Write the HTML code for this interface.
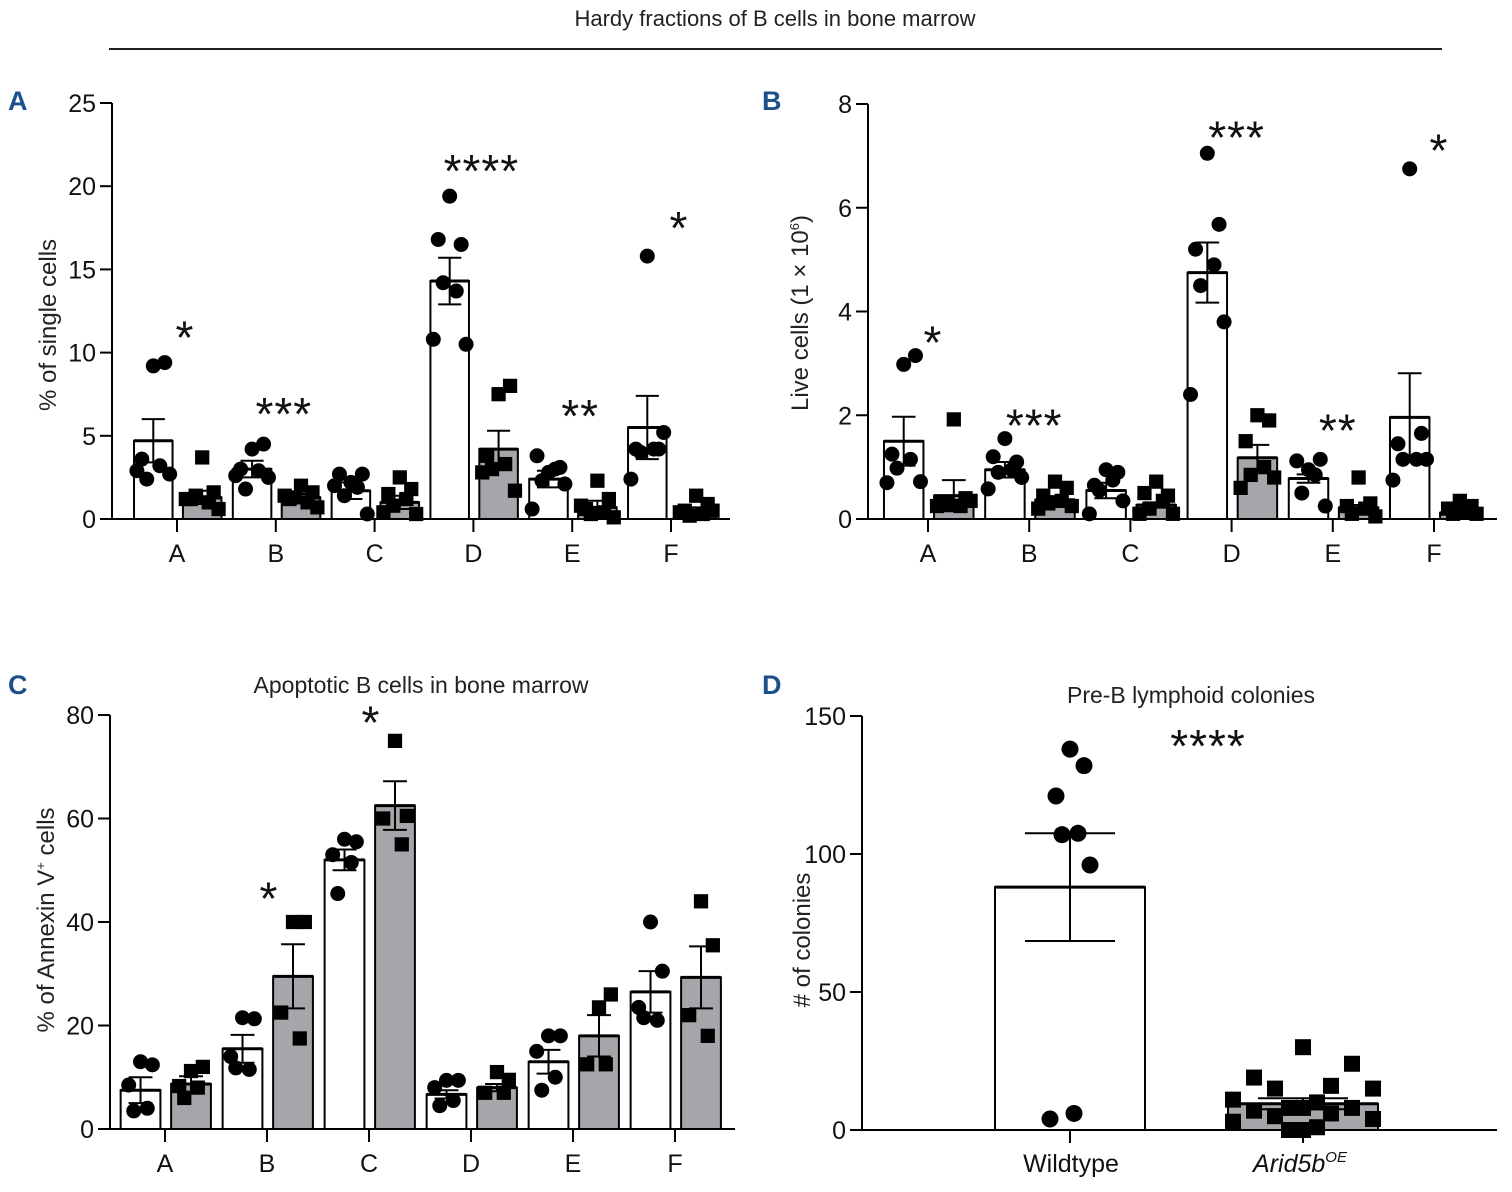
<!DOCTYPE html>
<html><head><meta charset="utf-8"><style>
html,body{margin:0;padding:0;background:#fff;}
svg{display:block;font-family:"Liberation Sans",Arial,sans-serif;}
.pl{fill:#1d4f8a;font-weight:bold;font-size:27px;}
</style></head><body>
<svg id="fig" width="1512" height="1192" viewBox="0 0 1512 1192" xmlns="http://www.w3.org/2000/svg">
<text x="775" y="26" font-size="22" text-anchor="middle" fill="#222">Hardy fractions of B cells in bone marrow</text>
<line x1="109" y1="49" x2="1442" y2="49" stroke="#222" stroke-width="2"/>
<text class="pl" x="8" y="110">A</text>
<text class="pl" x="762" y="110">B</text>
<text class="pl" x="8" y="694">C</text>
<text class="pl" x="762" y="694">D</text>
<text x="421" y="693" font-size="23" text-anchor="middle" fill="#222">Apoptotic B cells in bone marrow</text>
<text x="1191" y="703" font-size="23" text-anchor="middle" fill="#222">Pre-B lymphoid colonies</text>
<g id="gA"></g>
<g id="gB"></g>
<g id="gC"></g>
<g id="gD"></g>
</svg>
<script>
// ---------- data ----------
const categories = ["A","B","C","D","E","F"];
// Panel A: % of single cells
const aWtMean = [4.7,3.0,1.7,14.3,2.4,5.5];
const aWtSem = [1.3,0.5,0.5,1.4,0.5,1.9];
const aOeMean = [1.3,1.3,1.0,4.2,0.7,0.5];
const aOeSem = [0.4,0.2,0.4,1.1,0.4,0.2];
const aWtPts = [[9.2,9.4,3.6,3.2,2.4,2.7,2.9],[4.2,4.5,3.0,2.9,1.8,2.5,2.6],[2.2,2.7,2.7,1.9,1.4,0.3,2.0],[19.4,16.5,16.8,13.7,14.2,10.5,10.8],[2.8,3.1,3.8,3.0,2.3,2.1,0.6],[15.8,4.2,4.2,4.2,4.0,5.2,2.4]];
const aOePts = [[3.7,1.6,1.2,1.0,1.4,0.6,1.2],[2.0,1.6,1.2,1.0,1.3,0.7,1.4],[2.5,1.8,1.5,1.2,0.8,0.3,0.4],[7.5,8.0,3.8,3.3,3.0,1.7,2.8],[2.3,1.2,0.6,0.4,0.3,0.1,0.8],[1.4,0.9,0.5,0.3,0.2,0.5,0.4]];
const aTicks = [0,5,10,15,20,25];
const aSig = ["*","***","","****","**","*"];
const aSigY = [11.5,6.9,0,21.5,6.8,18.1];
// Panel B: live cells
const bWtMean = [1.5,0.95,0.55,4.75,0.78,1.96];
const bWtSem = [0.47,0.15,0.15,0.58,0.08,0.85];
const bOeMean = [0.45,0.37,0.27,1.18,0.22,0.12];
const bOeSem = [0.3,0.07,0.05,0.25,0.05,0.03];
const bWtPts = [[2.98,3.15,1.25,1.15,0.98,0.72,0.70],[1.55,1.1,1.2,0.95,0.9,0.8,0.58],[0.95,0.9,0.65,0.75,0.55,0.35,0.1],[7.05,5.68,5.2,4.9,4.5,3.8,2.4],[0.95,1.15,1.12,0.85,0.5,0.25],[6.75,1.65,1.45,1.15,1.15,1.15,0.75]];
const bOePts = [[1.92,0.4,0.3,0.25,0.3,0.35,0.25],[0.72,0.6,0.45,0.35,0.3,0.25,0.2],[0.72,0.45,0.5,0.35,0.2,0.1,0.1],[2.0,1.9,1.5,1.0,0.85,0.8,0.6],[0.8,0.3,0.25,0.2,0.1,0.05],[0.35,0.25,0.2,0.15,0.1,0.1]];
const bTicks = [0,2,4,6,8];
const bSig = ["*","***","","***","**","*"];
const bSigY = [3.6,2.0,0,7.55,1.9,7.3];
// Panel C: annexin V+
const cWtMean = [7.5,15.5,52,6.7,13,26.5];
const cWtSem = [2.5,2.7,2,0.8,2.3,4];
const cOeMean = [8.7,29.5,62.5,8,18,29.3];
const cOeSem = [1.5,6.2,4.7,0.7,4,6];
const cWtPts = [[13,12.4,8.5,4,3.5],[21.5,21.3,14,11.5,11.8],[56,55.5,53,51.5,45.5],[9.4,9.4,8,5.5,4.5],[18,18,15,10,7.5],[40,30.5,23.5,21,21.5]];
const cOePts = [[11.2,12,8.3,8,6],[40,40,22.5,17.5],[75,60.5,60,55],[11,9.5,7,7],[23.5,26,12.5,12.5],[44,35.5,22,18]];
const cTicks = [0,20,40,60,80];
const cSig = ["","*","*","","",""];
const cSigY = [0,46.5,80.5,0,0,0];
// Panel D: colonies
const dGroups = ["Wildtype","Arid5b"];
const dMean = [88,9.5];
const dSem = [19.5,2];
const dWtPts = [138,132,121,107.5,107,96,4,6];
const dOePts = [30,24,19,16,15,15,11,10,8,8,8,7,6,5,4,3,1,0,0];
const dTicks = [0,50,100,150];

const NS="http://www.w3.org/2000/svg";
function mk(parent,tag,attrs,txt){const e=document.createElementNS(NS,tag);for(const k in attrs)e.setAttribute(k,attrs[k]);if(txt!==undefined)e.textContent=txt;parent.appendChild(e);return e;}
function jit(i,n,w){ if(n<=1) return 0; const ord=[0.5,0.85,0.15,0.7,0.3,1,0,0.6,0.4]; return (ord[i%ord.length]-0.5)*w; }

function drawAxes(g,o){
  const y=v=>o.y0-(v-o.min)/(o.max-o.min)*(o.y0-o.y1);
  const ax=mk(g,'line',{x1:o.x0,y1:o.y1,x2:o.x0,y2:o.y0,stroke:'#000','stroke-width':2});
  
  o.ticks.forEach(t=>{
    const tl=mk(g,'line',{x1:o.x0-12,y1:y(t),x2:o.x0,y2:y(t),stroke:'#000','stroke-width':2});
    
    const tx=mk(g,'text',{x:o.x0-16,y:y(t)+9,'font-size':25,'text-anchor':'end',fill:'#111'},t);
    
  });
  const t=mk(g,'text',{transform:`translate(${o.ylx},${o.yly}) rotate(-90)`,'font-size':24,'text-anchor':'middle',fill:'#222'});
  
  t.innerHTML=o.ytitle;
  return y;
}
function dot(g,x,y,r){const c=mk(g,'circle',{cx:x,cy:y,r:r,fill:'#000'});}
function sq(g,x,y,s){const c=mk(g,'rect',{x:x-s/2,y:y-s/2,width:s,height:s,fill:'#000'});}
function bar(g,cx,w,y,mean,sem,fill,name){
  const r=mk(g,'rect',{x:cx-w/2,y:y(mean),width:w,height:y(0)-y(mean),fill:fill,stroke:'#000','stroke-width':2});
  
  const e=mk(g,'path',{d:`M${cx},${y(mean+sem)}V${y(mean-sem)}M${cx-w*0.3},${y(mean+sem)}H${cx+w*0.3}M${cx-w*0.3},${y(mean-sem)}H${cx+w*0.3}`,stroke:'#000','stroke-width':2,fill:'none'});
  
  const m=mk(g,'line',{x1:cx-w/2,x2:cx+w/2,y1:y(mean),y2:y(mean),stroke:'#000','stroke-width':3});
  
}
function grouped(id,o,wm,ws,om,os,wp,op,sig,sigY){
  const g=document.getElementById(id);
  const y=drawAxes(g,o);
  const xl=mk(g,'line',{x1:o.x0,y1:o.y0,x2:o.x2,y2:o.y0,stroke:'#000','stroke-width':2});
  
  const sp=o.sp, bw=sp*0.39;
  categories.forEach((c,i)=>{
    const gx=o.gx0+i*sp;
    const tk=mk(g,'line',{x1:gx,x2:gx,y1:o.y0,y2:o.y0+13,stroke:'#000','stroke-width':2});
    
    const lb=mk(g,'text',{x:gx,y:o.y0+43,'font-size':25,'text-anchor':'middle',fill:'#111'},c);
    
    const wx=gx-sp*0.24, ox=gx+sp*0.255;
    bar(g,wx,bw,y,wm[i],ws[i],'#fff','bar-wildtype-'+c);
    bar(g,ox,bw,y,om[i],os[i],'#a6a6aa','bar-arid5b-oe-'+c);
    wp[i].forEach((v,j)=>dot(g,wx+jit(j,wp[i].length,bw*0.85),y(v),o.r));
    op[i].forEach((v,j)=>sq(g,ox+jit(j,op[i].length,bw*0.85),y(v),o.r*1.9));
    if(sig[i]){const s=mk(g,'text',{x:gx+(o.sigdx||0),y:y(sigY[i])+26,'font-size':46,'text-anchor':'middle',fill:'#111','letter-spacing':'1'},sig[i]);}
  });
}
grouped('gA',{x0:112,x2:730,y0:519,y1:103,min:0,max:25,ticks:aTicks,gx0:177,sp:98.8,r:7.5,sigdx:8,ylx:56,yly:325,ytitle:'% of single cells'},aWtMean,aWtSem,aOeMean,aOeSem,aWtPts,aOePts,aSig,aSigY);
grouped('gB',{x0:868,x2:1497,y0:519,y1:104,min:0,max:8,ticks:bTicks,gx0:928,sp:101.2,r:7.5,sigdx:5,ylx:808,yly:313,ytitle:'Live cells (1 × 10<tspan font-size="13" dy="-9">6</tspan><tspan dy="9">)</tspan>'},bWtMean,bWtSem,bOeMean,bOeSem,bWtPts,bOePts,bSig,bSigY);
grouped('gC',{x0:110,x2:735,y0:1129,y1:715,min:0,max:80,ticks:cTicks,gx0:165,sp:102,r:7.5,sigdx:2,ylx:54,yly:920,ytitle:'% of Annexin V<tspan font-size="13" dy="-9">+</tspan><tspan dy="9"> cells</tspan>'},cWtMean,cWtSem,cOeMean,cOeSem,cWtPts,cOePts,cSig,cSigY);

// Panel D
(function(){
  const g=document.getElementById('gD');
  const o={x0:862,y0:1130,y1:716,min:0,max:150,ticks:dTicks,ylx:810,yly:940,ytitle:'# of colonies'};
  const y=drawAxes(g,o);
  const xl=mk(g,'line',{x1:862,y1:1130,x2:1497,y2:1130,stroke:'#000','stroke-width':2});
  
  const cx=[1070,1303], bw=150;
  cx.forEach((x,i)=>{
    const tk=mk(g,'line',{x1:x,x2:x,y1:1130,y2:1143,stroke:'#000','stroke-width':2});
    
    bar(g,x,bw,y,dMean[i],dSem[i],i?'#a6a6aa':'#fff',i?'bar-arid5b-oe':'bar-wildtype');
  });
  const l1=mk(g,'text',{x:1071,y:1172,'font-size':25,'text-anchor':'middle',fill:'#111'},'Wildtype');
  
  const l2=mk(g,'text',{x:1300,y:1172,'font-size':25,'text-anchor':'middle',fill:'#111','font-style':'italic'});
  
  l2.innerHTML='Arid5b<tspan font-size="15" dy="-10">OE</tspan>';
  dWtPts.forEach((v,j)=>dot(g,cx[0]+jit(j,dWtPts.length,40),y(v),8.5));
  dOePts.forEach((v,j)=>sq(g,cx[1]+jit(j,dOePts.length,140),y(v),16));
  const s=mk(g,'text',{x:1208,y:762,'font-size':46,'text-anchor':'middle',fill:'#111','letter-spacing':'1'},'****');
  
})();
</script>
</body></html>
